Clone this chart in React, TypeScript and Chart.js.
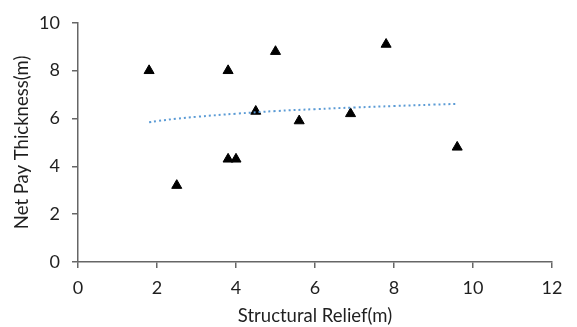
import React, { useEffect, useRef } from "react";
import { Chart, registerables } from "chart.js";

Chart.register(...registerables);

const reliefX = [1.8, 2.5, 3.8, 3.8, 4.0, 4.5, 5.0, 5.6, 6.9, 7.8, 9.6];
const thicknessY = [8.0, 3.2, 8.0, 4.3, 4.3, 6.3, 8.8, 5.9, 6.2, 9.1, 4.8];
const trendX = [1.8, 2, 2.5, 3, 4, 5, 6, 7, 8, 9, 9.6];
const trendY = [5.84, 5.89, 5.99, 6.07, 6.2, 6.31, 6.39, 6.46, 6.52, 6.58, 6.61];
const xTickValues = [0, 2, 4, 6, 8, 10, 12];
const yTickValues = [0, 2, 4, 6, 8, 10];
const xTitle = "Structural Relief(m)";
const yTitle = "Net Pay Thickness(m)";

const FONT = "Lato, 'Open Sans', sans-serif";
const AXIS = "#666666";
const TEXT = "#1f1f1f";

export default function App() {
  const ref = useRef<HTMLCanvasElement | null>(null);

  useEffect(() => {
    if (!ref.current) return;
    const chart = new Chart(ref.current, {
      type: "scatter",
      data: {
        datasets: [
          {
            label: "trend",
            data: trendX.map((x, i) => ({ x, y: trendY[i] })),
            showLine: true,
            borderColor: "#5B9BD5",
            borderWidth: 2,
            borderDash: [2, 3],
            borderCapStyle: "butt",
            pointRadius: 0,
            tension: 0.4,
            fill: false,
          },
          {
            label: "data",
            data: reliefX.map((x, i) => ({ x, y: thicknessY[i] })),
            pointStyle: "triangle",
            pointRadius: 5.8,
            pointBackgroundColor: "#000",
            pointBorderColor: "#000",
            pointBorderWidth: 1,
            showLine: false,
          },
        ],
      },
      options: {
        responsive: false,
        animation: false,
        layout: { padding: { left: 0, right: 25, top: 16, bottom: 0 } },
        plugins: { legend: { display: false }, tooltip: { enabled: false } },
        scales: {
          x: {
            type: "linear",
            min: 0,
            max: 12,
            afterFit: (s: any) => {
              s.height = 65;
            },
            afterBuildTicks: (s: any) => {
              s.ticks = xTickValues.map((v) => ({ value: v }));
            },
            ticks: { font: { family: FONT, size: 18 }, color: TEXT, padding: 9 },
            grid: { display: true, drawOnChartArea: false, drawTicks: true, tickLength: 6, color: AXIS, lineWidth: 1.5 },
            border: { display: true, color: AXIS, width: 1.5 },
            title: { display: true, text: xTitle, font: { family: FONT, size: 18.5 }, color: TEXT, padding: { top: 0, bottom: 0 } },
          },
          y: {
            type: "linear",
            min: 0,
            max: 10,
            afterFit: (s: any) => {
              s.width = 78;
            },
            afterBuildTicks: (s: any) => {
              s.ticks = yTickValues.map((v) => ({ value: v }));
            },
            ticks: { font: { family: FONT, size: 18 }, color: TEXT, padding: 12 },
            grid: { display: true, drawOnChartArea: false, drawTicks: true, tickLength: 6, color: AXIS, lineWidth: 1.5 },
            border: { display: true, color: AXIS, width: 1.5 },
            title: { display: true, text: yTitle, font: { family: FONT, size: 18.5 }, color: TEXT, padding: { top: 11, bottom: 0 } },
          },
        },
      },
    });
    return () => chart.destroy();
  }, []);

  return (
    <div style={{ position: "absolute", left: 0, top: 0, width: 577, height: 327, background: "#fff" }}>
      <canvas ref={ref} width={577} height={327} style={{ display: "block" }} />
    </div>
  );
}
